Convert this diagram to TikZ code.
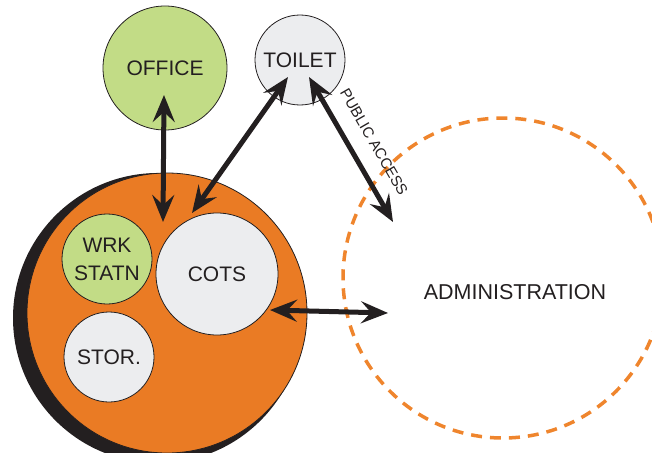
\documentclass[tikz,border=0pt]{standalone}
\usepackage{fontspec}
\setmainfont{Liberation Sans}
\usetikzlibrary{arrows.meta}
\definecolor{org}{RGB}{234,123,36}
\definecolor{orgdash}{RGB}{239,133,45}
\definecolor{grn}{RGB}{194,220,134}
\definecolor{gry}{RGB}{236,237,239}
\definecolor{ink}{RGB}{35,31,32}
\tikzset{
  room/.style={circle, draw=ink, line width=0.8pt, inner sep=0pt, text=ink, align=center,
    font=\fontsize{21}{28}\selectfont},
  dbl/.style={ink, line width=5pt,
    {Stealth[length=27pt,width=22pt,inset=10pt]}-{Stealth[length=27pt,width=22pt,inset=10pt]}},
}
\begin{document}
\begin{tikzpicture}[x=1pt,y=-1pt]
\useasboundingbox (0,0) rectangle (652,452);
% administration zone
\node[circle, draw=orgdash, line width=3.5pt, dash pattern=on 11pt off 8pt, minimum size=320pt, inner sep=0pt] (admin) at (503,278) {};
\node[text=ink, font=\fontsize{21.5}{24}\selectfont] (admintxt) at (515,292) {ADMINISTRATION};
% unit
\node[circle, fill=ink, minimum size=290pt, inner sep=0pt] (shadow) at (158,318) {};
\node[circle, fill=org, draw=ink, line width=0.8pt, minimum size=280pt, inner sep=0pt] (unit) at (167,313) {};
\node[room, fill=grn, minimum size=90pt] (wrk) at (107,259) {WRK\\STATN};
\node[room, fill=gry, minimum size=122pt] (cots) at (217,274) {COTS};
\node[room, fill=gry, minimum size=90pt] (stor) at (109,357) {STOR.};
\node[room, fill=grn, minimum size=124pt] (office) at (165,68) {OFFICE};
\node[room, fill=gry, minimum size=90pt] (toilet) at (300,60) {TOILET};
% arrow ends
\coordinate (offA) at (164,95);
\coordinate (offB) at (163,222);
\coordinate (toiA) at (288,77);
\coordinate (cotA) at (192,213);
\coordinate (toiB) at (309,77);
\coordinate (admA) at (393,222);
\coordinate (cotB) at (270,310);
\coordinate (admB) at (388,313);
\draw[dbl] (offA) -- (offB);
\draw[dbl] (cotA) -- (toiA);
\draw[dbl] (toiB) -- (admA);
\draw[dbl] (cotB) -- (admB);
\node[text=ink, font=\fontsize{15}{16}\selectfont, rotate=-60, inner sep=0pt] (pub) at (374,142) {PUBLIC ACCESS};
\end{tikzpicture}
\end{document}
